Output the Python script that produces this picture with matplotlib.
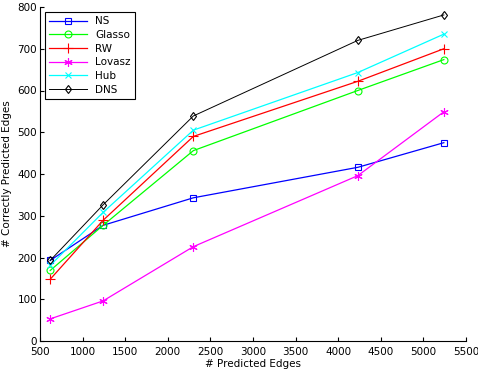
import matplotlib
matplotlib.use('Agg')
import matplotlib.pyplot as plt

# predicted edges (x) and correctly predicted edges per method
pred_edges = [620, 1240, 2300, 4230, 5240]
ns = [193, 277, 343, 416, 475]
glasso = [169, 277, 456, 600, 674]
rw = [148, 289, 490, 622, 700]
lovasz = [53, 96, 226, 396, 549]
hub = [181, 308, 505, 643, 735]
dns = [193, 326, 539, 720, 781]

plt.rcParams['font.family'] = ['DejaVu Sans']
plt.rcParams['font.size'] = 7.5
plt.rcParams['lines.markeredgewidth'] = 0.8

fig = plt.figure(figsize=(4.78, 3.74), dpi=100)
ax = fig.add_axes([40 / 478, 33 / 374, 426 / 478, 334 / 374])

lw = 0.9
ax.plot(pred_edges, ns, color='#0000ff', marker='s', mfc='none', ms=5, lw=lw, label='NS')
ax.plot(pred_edges, glasso, color='#00ff00', marker='o', mfc='none', ms=5, lw=lw, label='Glasso')
ax.plot(pred_edges, rw, color='#ff0000', marker='+', ms=7, lw=lw, label='RW')
ax.plot(pred_edges, lovasz, color='#ff00ff', marker=(6, 2, 0), ms=6, lw=lw, label='Lovasz')
ax.plot(pred_edges, hub, color='#00ffff', marker='x', ms=4.5, lw=lw, label='Hub')
ax.plot(pred_edges, dns, color='black', marker='d', mfc='none', ms=4.5, lw=0.7, label='DNS')

ax.set_xlim(500, 5500)
ax.set_ylim(0, 800)
ax.set_xticks(range(500, 5501, 500))
ax.set_yticks(range(0, 801, 100))
ax.tick_params(direction='in', length=3, width=0.8, pad=2)
ax.tick_params(axis='x', pad=4)
ax.spines['top'].set_visible(False)
ax.spines['right'].set_visible(False)

ax.set_xlabel('# Predicted Edges', labelpad=2)
ax.set_ylabel('# Correctly Predicted Edges', labelpad=4)

leg = ax.legend(loc='upper left', fancybox=False, edgecolor='black', framealpha=1,
                handlelength=3.6, borderaxespad=0.5, labelspacing=0.35, borderpad=0.4)
leg.get_frame().set_linewidth(0.8)

fig.savefig('out.png', dpi=100)
